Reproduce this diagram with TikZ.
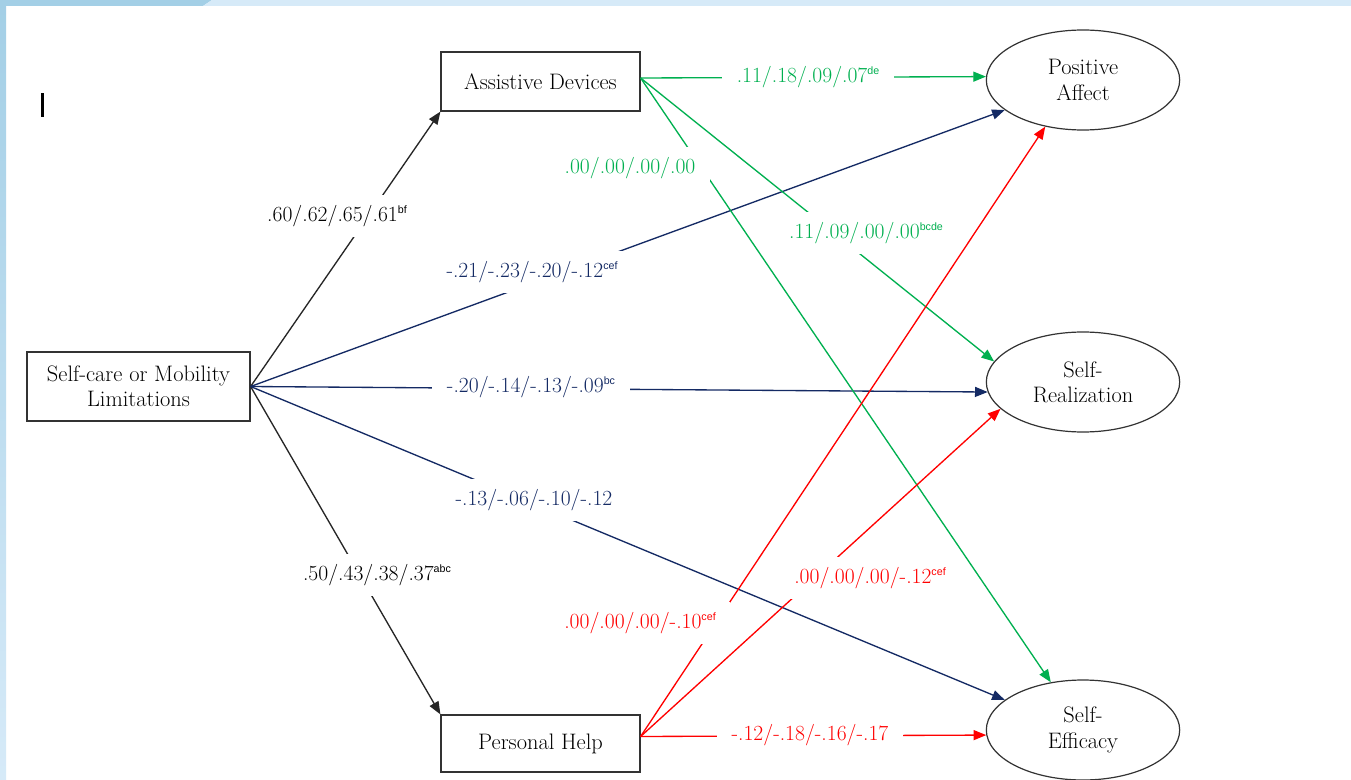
\documentclass[tikz,border=0pt]{standalone}
\usepackage{fontspec}
\newfontfamily\sansx{Liberation Sans}
\usetikzlibrary{shapes.geometric,arrows.meta}
\definecolor{cgreen}{RGB}{0,176,80}
\definecolor{cnavy}{RGB}{20,42,100}
\definecolor{cred}{RGB}{255,0,0}
\definecolor{frameblue}{RGB}{163,207,230}
\definecolor{framelight}{RGB}{214,234,248}
\newcommand\supx[1]{\raisebox{5.8pt}{\sansx\fontsize{8}{8}\selectfont #1}}
\begin{document}
\begin{tikzpicture}[x=0.75pt,y=-0.75pt,
  boxn/.style={draw=black!80,line width=0.9pt,rectangle,inner sep=0pt,font=\rmfamily\fontsize{16.8}{19}\selectfont,align=center},
  ovaln/.style={draw=black!80,line width=0.9pt,ellipse,minimum width=145pt,minimum height=75pt,inner sep=0pt,font=\rmfamily\fontsize{16.8}{19}\selectfont,align=center},
  conn/.style={line width=1pt,-{Triangle[length=9.5pt,width=7.5pt]}},
  lbl/.style={fill=white,inner xsep=11pt,inner ysep=7.5pt,font=\rmfamily\fontsize{16.2}{18}\selectfont}
]
\useasboundingbox (0,0) rectangle (1351,780);
% frame of the screenshot
\fill[white] (0,0) rectangle (1351,780);
\shade[top color=frameblue,bottom color=framelight] (0,0) rectangle (6,780);
\fill[frameblue] (0,0) -- (212,0) -- (203,6) -- (0,6) -- cycle;
\fill[framelight] (212,0) -- (1351,0) -- (1351,6) -- (203,6) -- cycle;
% caret mark
\fill[black] (40.5,93) rectangle (43.5,117);

% nodes
\node[boxn,minimum width=149.25pt,minimum height=44.25pt] (ad) at (540.5,81.5) {Assistive Devices};
\node[boxn,minimum width=167.25pt,minimum height=51.75pt] (sc) at (138.5,386.5) {Self-care or Mobility\\Limitations};
\node[boxn,minimum width=149.25pt,minimum height=42.75pt] (ph) at (540.5,743.5) {Personal Help};
\node[ovaln] (pa) at (1083,80) {Positive\\Affect};
\node[ovaln] (sr) at (1083,382) {Self-\\Realization};
\node[ovaln] (se) at (1083,730) {Self-\\Efficacy};

% connectors
\draw[conn,black!85] (sc.east) -- (ad.south west);
\draw[conn,black!85] (sc.east) -- (ph.north west);
\draw[conn,cnavy] (sc.east) -- (pa.201.8);
\draw[conn,cnavy] (sc.east) -- (sr.186);
\draw[conn,cnavy] (sc.east) -- (se.159.4);
\draw[conn,cgreen] (ad.2) -- (pa.178.8);
\draw[conn,cgreen] (ad.2) -- (sr.167.9);
\draw[conn,cgreen] (ad.2) -- (se.124.5);
\draw[conn,cred] (ph.4.9) -- (pa.231.1);
\draw[conn,cred] (ph.4.9) -- (sr.198.6);
\draw[conn,cred] (ph.4.9) -- (se.183);

% labels
\node[lbl,text=black] (l1) at (337,216) {.60/.62/.65/.61\supx{bf}};
\node[lbl,text=black] (l2) at (377,575) {.50/.43/.38/.37\supx{abc}};
\node[lbl,text=cnavy] (l3) at (532,272) {-.21/-.23/-.20/-.12\supx{cef}};
\node[lbl,text=cnavy] (l4) at (531,387) {-.20/-.14/-.13/-.09\supx{bc}};
\node[lbl,text=cnavy] (l5) at (534,500) {-.13/-.06/-.10/-.12};
\node[lbl,text=cgreen] (l6) at (808,77) {.11/.18/.09/.07\supx{de}};
\node[lbl,text=cgreen] (l7) at (630,168) {.00/.00/.00/.00};
\node[lbl,text=cgreen] (l8) at (866,233) {.11/.09/.00/.00\supx{bcde}};
\node[lbl,text=cred] (l9) at (640,623) {.00/.00/.00/-.10\supx{cef}};
\node[lbl,text=cred] (l10) at (870,578) {.00/.00/.00/-.12\supx{cef}};
\node[lbl,text=cred] (l11) at (810,735) {-.12/-.18/-.16/-.17};
\end{tikzpicture}
\end{document}
